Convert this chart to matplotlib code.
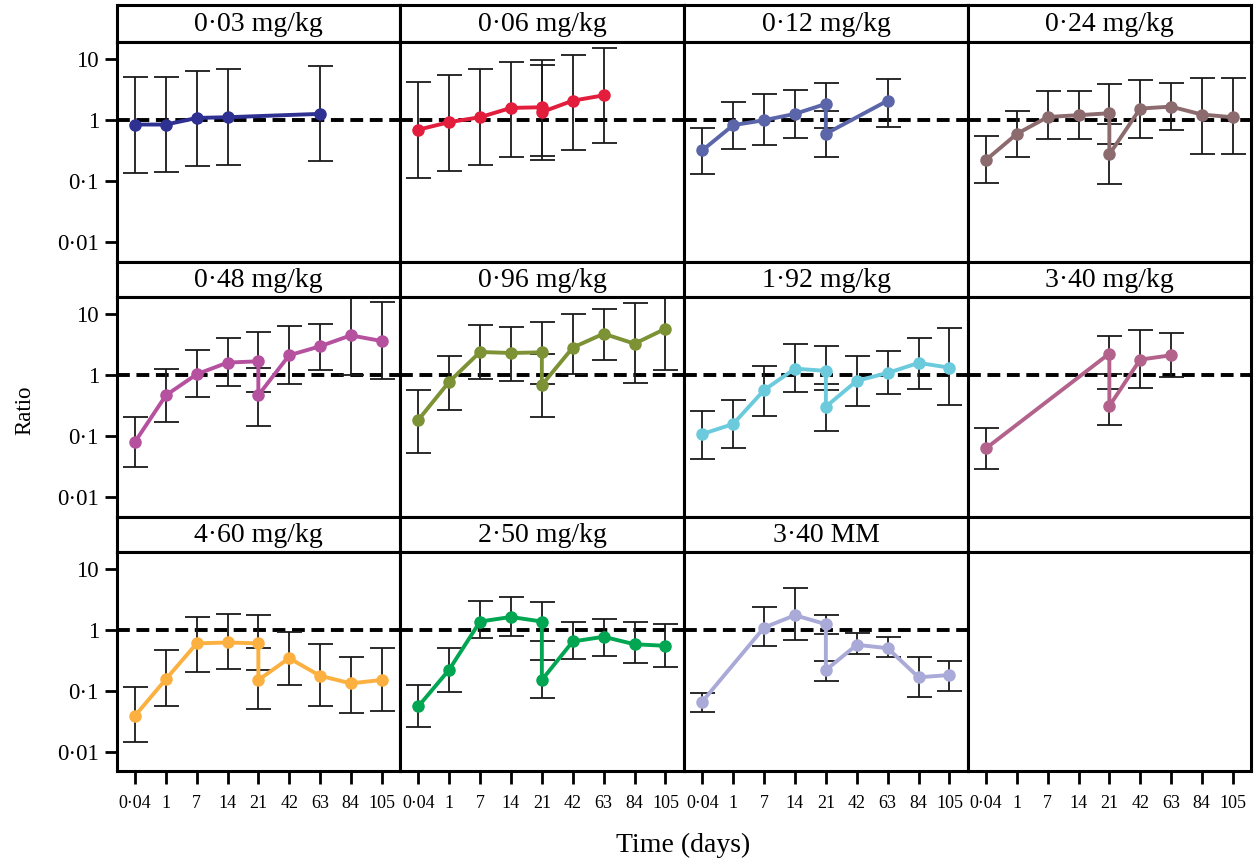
import matplotlib
matplotlib.use("Agg")
import matplotlib.pyplot as plt
import numpy as np

plt.rcParams['font.family'] = ['Liberation Serif', 'DejaVu Serif']

# ---- data ----
days = ["0·04", "1", "7", "14", "21", "42", "63", "84", "105"]
yticks = [0.01, 0.1, 1, 10]
ytick_labels = ["0·01", "0·1", "1", "10"]

titles = ["0·03 mg/kg", "0·06 mg/kg", "0·12 mg/kg", "0·24 mg/kg",
          "0·48 mg/kg", "0·96 mg/kg", "1·92 mg/kg", "3·40 mg/kg",
          "4·60 mg/kg", "2·50 mg/kg", "3·40 MM"]
colors = ["#2E3192", "#E31D3C", "#5B65A9", "#8C6B6F",
          "#B5519F", "#7D9135", "#6BCBDD", "#B3628C",
          "#FBB040", "#00A651", "#AAAAD8"]

d003_t = ["0·04", "1", "7", "14", "63"]
d003_v = [0.85, 0.85, 1.09, 1.12, 1.27]
d003_lo = [0.137, 0.142, 0.176, 0.183, 0.212]
d003_hi = [5.07, 5.07, 6.5, 6.8, 7.7]

d006_t = ["0·04", "1", "7", "14", "21", "21", "42", "63"]
d006_v = [0.70, 0.93, 1.12, 1.59, 1.63, 1.36, 2.09, 2.55]
d006_lo = [0.113, 0.148, 0.185, 0.252, 0.256, 0.225, 0.32, 0.417]
d006_hi = [4.2, 5.5, 6.8, 8.9, 9.6, 8.1, 11.7, 15.4]

d012_t = ["0·04", "1", "7", "14", "21", "21", "63"]
d012_v = [0.32, 0.83, 1.0, 1.27, 1.85, 0.60, 2.09]
d012_lo = [0.130, 0.333, 0.392, 0.515, 0.733, 0.249, 0.769]
d012_hi = [0.75, 1.99, 2.72, 3.17, 4.05, 1.40, 4.71]

d024_t = ["0·04", "1", "7", "14", "21", "21", "42", "63", "84", "105"]
d024_v = [0.225, 0.60, 1.13, 1.21, 1.30, 0.276, 1.55, 1.67, 1.24, 1.12]
d024_lo = [0.094, 0.25, 0.50, 0.50, 0.41, 0.092, 0.515, 0.695, 0.276, 0.276]
d024_hi = [0.55, 1.44, 2.97, 2.97, 3.90, 0.88, 4.60, 4.11, 5.0, 5.0]

d048_t = ["0·04", "1", "7", "14", "21", "21", "42", "63", "84", "105"]
d048_v = [0.082, 0.47, 1.04, 1.61, 1.69, 0.47, 2.12, 2.97, 4.49, 3.63]
d048_lo = [0.032, 0.171, 0.432, 0.67, 0.528, 0.147, 0.705, 1.21, 1.0, 0.86]
d048_hi = [0.204, 1.25, 2.56, 4.11, 5.09, 1.33, 6.30, 6.79, 22.0, 15.5]

d096_t = ["0·04", "1", "7", "14", "21", "21", "42", "63", "84", "105"]
d096_v = [0.185, 0.78, 2.40, 2.31, 2.37, 0.69, 2.83, 4.78, 3.28, 5.77]
d096_lo = [0.053, 0.269, 0.86, 0.80, 0.71, 0.209, 1.04, 1.76, 0.75, 1.24]
d096_hi = [0.57, 2.07, 6.70, 6.14, 7.31, 2.20, 10.1, 12.2, 15.1, 20.0]

d192_t = ["0·04", "1", "7", "14", "21", "21", "42", "63", "84", "105"]
d192_v = [0.109, 0.159, 0.57, 1.28, 1.18, 0.305, 0.81, 1.09, 1.59, 1.33]
d192_lo = [0.042, 0.064, 0.215, 0.528, 0.57, 0.124, 0.313, 0.49, 0.60, 0.324]
d192_hi = [0.262, 0.391, 1.44, 3.28, 2.97, 0.713, 2.04, 2.49, 4.11, 5.91]

d340_t = ["0·04", "21", "21", "42", "63"]
d340_v = [0.064, 2.26, 0.313, 1.80, 2.12]
d340_lo = [0.029, 1.04, 0.155, 0.61, 0.92]
d340_hi = [0.135, 4.32, 0.60, 5.42, 4.90]

d460_t = ["0·04", "1", "7", "14", "21", "21", "42", "63", "84", "105"]
d460_v = [0.039, 0.155, 0.60, 0.62, 0.60, 0.150, 0.343, 0.176, 0.132, 0.150]
d460_lo = [0.0142, 0.055, 0.20, 0.226, 0.218, 0.050, 0.125, 0.055, 0.043, 0.047]
d460_hi = [0.113, 0.465, 1.63, 1.85, 1.74, 0.513, 0.94, 0.58, 0.36, 0.50]

d250_t = ["0·04", "1", "7", "14", "21", "21", "42", "63", "84", "105"]
d250_v = [0.055, 0.221, 1.37, 1.63, 1.37, 0.150, 0.644, 0.77, 0.58, 0.547]
d250_lo = [0.025, 0.094, 0.73, 0.80, 0.66, 0.075, 0.33, 0.366, 0.28, 0.241]
d250_hi = [0.125, 0.50, 2.99, 3.47, 2.91, 0.322, 1.37, 1.50, 1.35, 1.27]

dmm_t = ["0·04", "7", "14", "21", "21", "42", "63", "84", "105"]
dmm_v = [0.066, 1.09, 1.74, 1.24, 0.218, 0.568, 0.50, 0.166, 0.181]
dmm_lo = [0.044, 0.547, 0.68, 0.85, 0.146, 0.40, 0.352, 0.078, 0.10]
dmm_hi = [0.090, 2.38, 4.94, 1.76, 0.303, 0.90, 0.75, 0.352, 0.31]

series = [
    (d003_t, d003_v, d003_lo, d003_hi),
    (d006_t, d006_v, d006_lo, d006_hi),
    (d012_t, d012_v, d012_lo, d012_hi),
    (d024_t, d024_v, d024_lo, d024_hi),
    (d048_t, d048_v, d048_lo, d048_hi),
    (d096_t, d096_v, d096_lo, d096_hi),
    (d192_t, d192_v, d192_lo, d192_hi),
    (d340_t, d340_v, d340_lo, d340_hi),
    (d460_t, d460_v, d460_lo, d460_hi),
    (d250_t, d250_v, d250_lo, d250_hi),
    (dmm_t, dmm_v, dmm_lo, dmm_hi),
]

# ---- layout (pixels) ----
W, H = 1257, 864
fig = plt.figure(figsize=(W / 100, H / 100), dpi=100)

col_edges = [117, 400, 684, 968, 1251]
rows = [(5, 42, 262), (262, 297, 517), (517, 552, 771)]  # strip top, panel top, panel bottom
BW = 2.2

def frac_rect(x0, x1, ytop, ybot):
    return [x0 / W, 1 - ybot / H, (x1 - x0) / W, (ybot - ytop) / H]

for idx in range(12):
    r, c = divmod(idx, 4)
    x0, x1 = col_edges[c], col_edges[c + 1]
    st, pt, pb = rows[r]
    # strip
    sax = fig.add_axes(frac_rect(x0, x1, st, pt))
    sax.set_xticks([]); sax.set_yticks([])
    for s in sax.spines.values():
        s.set_linewidth(BW)
    if idx < len(titles):
        sax.text(0.5, 0.47, titles[idx], ha='center', va='center', fontsize=20,
                 transform=sax.transAxes)
    # panel
    ax = fig.add_axes(frac_rect(x0, x1, pt, pb))
    ax.set_yscale('log')
    ax.set_ylim(10 ** -2.32, 10 ** 1.28)
    ax.set_xlim(0.41, 9.6)
    for s in ax.spines.values():
        s.set_linewidth(BW)
    ax.minorticks_off()
    ax.set_yticks(yticks)
    ax.set_xticks(np.arange(1, len(days) + 1))
    ax.tick_params(axis='both', direction='out', length=9, width=2.0, colors='black')
    if c == 0:
        ax.set_yticklabels(ytick_labels, fontsize=16.5)
        ax.tick_params(axis='y', pad=4)
    else:
        ax.tick_params(axis='y', length=0, labelleft=False)
    if r == 2:
        ax.set_xticklabels(days, fontsize=13)
        ax.tick_params(axis='x', pad=8)
    else:
        ax.tick_params(axis='x', length=0, labelbottom=False)

    if idx < len(series):
        t, v, lo, hi = series[idx]
        x = np.array([days.index(d) + 1 for d in t], dtype=float)
        v = np.array(v); lo = np.array(lo); hi = np.array(hi)
        ax.axhline(1, color='black', lw=2.8, dashes=(3.3, 1.7), zorder=1)
        ax.errorbar(x, v, yerr=[v - lo, hi - v], fmt='none', ecolor='#1a1a1a',
                    elinewidth=1.3, capsize=9, capthick=1.3, zorder=2)
        ax.plot(x, v, '-o', color=colors[idx], lw=2.8, ms=8, zorder=3,
                solid_joinstyle='round')

fig.text(25 / W, 1 - 410 / H, "Ratio", rotation=90, ha='center', va='center', fontsize=16.5)
fig.text(683 / W, 1 - 845 / H, "Time (days)", ha='center', va='center', fontsize=20)

fig.savefig("out.png", dpi=100)
